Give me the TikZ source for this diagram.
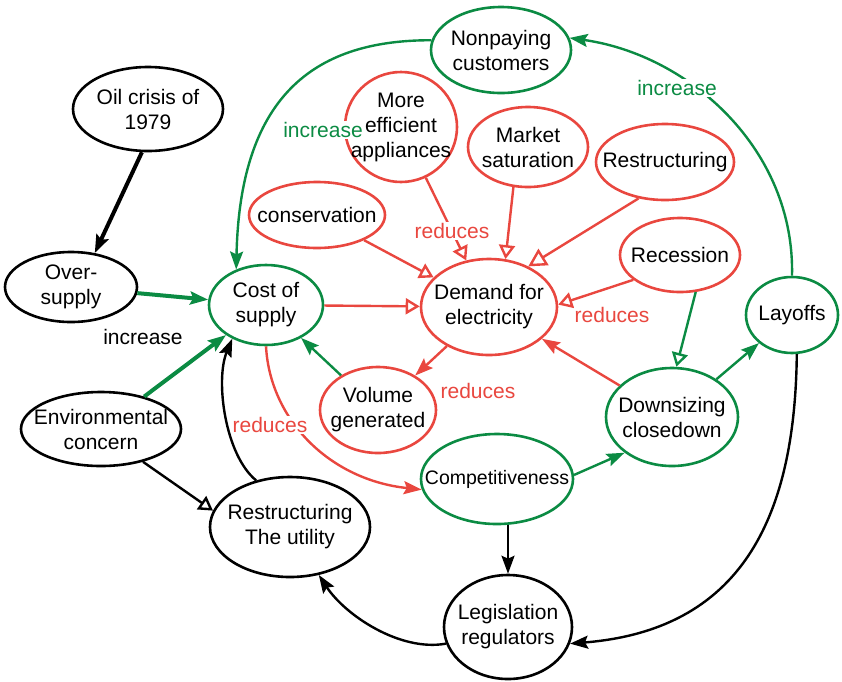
\documentclass[tikz,border=0pt]{standalone}
\usepackage{fontspec}
\setmainfont{Liberation Sans}
\usetikzlibrary{arrows.meta,shapes.geometric}
\definecolor{leafgreen}{HTML}{0B8B43}
\definecolor{brick}{HTML}{E9473F}
\tikzset{
  conceptbox/.style={
    ellipse, draw=#1, line width=2.6pt, text=black,
    inner xsep=-40pt, inner ysep=-40pt, align=center,
    font=\fontsize{21}{25}\selectfont
  },
  conceptbox/.default=black,
  pusharrow/.style={
    -{Stealth[length=18pt,width=13pt,inset=3pt]}, line width=2.4pt, color=#1
  },
  pusharrow/.default=black,
  heavyarrow/.style={pusharrow=#1, line width=4pt},
  heavyarrow/.default=black,
  cutarrow/.style={
    -{Triangle[open,length=14pt,width=16pt]}, line width=2.4pt, color=#1
  },
  cutarrow/.default=brick,
  edgelabel/.style={
    font=\fontsize{21}{25}\selectfont, text=#1, fill=white, inner sep=1pt
  },
  edgelabel/.default=brick,
}

\begin{document}
\begin{tikzpicture}[x=1pt, y=-1pt]
  \useasboundingbox (0,0) rectangle (842,681);

  % outer causes (black)
  \node[conceptbox, minimum width=150, minimum height=84] at (148,109) (oil) {Oil crisis of\\1979};
  \node[conceptbox, minimum width=132, minimum height=70] at (71,287) (over) {Over-\\supply};
  \node[conceptbox, minimum width=160, minimum height=74] at (101,429) (env) {Environmental\\concern};
  \node[conceptbox, minimum width=160, minimum height=100] at (290,527) (util) {Restructuring\\The utility};
  \node[conceptbox, minimum width=128, minimum height=104] at (508,627) (legis) {Legislation\\regulators};

  % demand side (red)
  \node[conceptbox=brick, minimum width=136, minimum height=66] at (317,215) (cons) {conservation};
  \node[conceptbox=brick, minimum width=112, minimum height=110] at (401,127) (eff) {More\\efficient\\appliances};
  \node[conceptbox=brick, minimum width=120, minimum height=80] at (528,147) (market) {Market\\saturation};
  \node[conceptbox=brick, minimum width=138, minimum height=76] at (665,162) (restr) {Restructuring};
  \node[conceptbox=brick, minimum width=120, minimum height=74] at (680,255) (recess) {Recession};
  \node[conceptbox=brick, minimum width=136, minimum height=96] at (489,307) (demand) {Demand for\\electricity};
  \node[conceptbox=brick, minimum width=116, minimum height=86] at (378,410) (volume) {Volume\\generated};

  % supply side (green)
  \node[conceptbox=leafgreen, minimum width=114, minimum height=80] at (266,305) (cost) {Cost of\\supply};
  \node[conceptbox=leafgreen, minimum width=140, minimum height=86] at (501,50) (nonpay) {Nonpaying\\customers};
  \node[conceptbox=leafgreen, minimum width=92, minimum height=76] at (792,315) (layoffs) {Layoffs};
  \node[conceptbox=leafgreen, minimum width=132, minimum height=98] at (672,417) (down) {Downsizing\\closedown};
  \node[conceptbox=leafgreen, minimum width=152, minimum height=90, font=\fontsize{19.5}{23}\selectfont] at (497,479) (comp) {Competitiveness};

  % heavy arrows into cost of supply
  \draw[heavyarrow] (oil.262) -- (over.55);
  \draw[heavyarrow=leafgreen] (over) -- (cost);
  \draw[heavyarrow=leafgreen] (env) -- (cost);

  % open arrows into demand
  \foreach \s in {cons,eff,cost} {
    \draw[cutarrow] (\s) -- (demand);
  }
  \draw[cutarrow] (market.250) -- (demand.71);
  \draw[cutarrow, -{Triangle[open,length=18pt,width=19pt]}] (restr.234) -- (demand.46);
  \draw[cutarrow] (recess.208) -- (demand.2);
  \draw[cutarrow=leafgreen] (recess.293) -- (down.85);
  \draw[cutarrow=black] (env.322) -- (util.168);

  % filled arrows
  \draw[pusharrow=brick] (demand) -- (volume);
  \draw[pusharrow=brick] (down) -- (demand);
  \draw[pusharrow=leafgreen] (volume) -- (cost);
  \draw[pusharrow=leafgreen] (down) -- (layoffs);
  \draw[pusharrow=leafgreen] (comp.3) -- (down.217);
  \draw[pusharrow] (comp.south -| legis.north) -- (legis.north);

  % curved feedback loops
  \draw[pusharrow=leafgreen] (nonpay.172) .. controls (320,40) and (240,90) .. (cost.130);
  \draw[pusharrow=leafgreen] (layoffs.north) .. controls (795,150) and (690,55) .. (nonpay.10);
  \draw[pusharrow=brick] (cost.south) .. controls (270,420) and (330,480) .. (comp.188);
  \draw[pusharrow] (layoffs.277) .. controls (795,520) and (740,630) .. (legis.345);
  \draw[pusharrow] (legis.195) .. controls (400,652) and (345,615) .. (util.301);
  \draw[pusharrow] (util.126) .. controls (225,455) and (215,380) .. (cost.225);

  % labels
  \node[edgelabel=black] at (143,337) (lbloversupply) {increase};
  \node[edgelabel=leafgreen] at (323,130) (lblnonpay) {increase};
  \node[edgelabel=leafgreen] at (677,88) (lbllayoffs) {increase};
  \node[edgelabel] at (452,231) (lbleff) {reduces};
  \node[edgelabel] at (612,315) (lblrecess) {reduces};
  \node[edgelabel] at (478,391) (lblvolume) {reduces};
  \node[edgelabel] at (270,425) (lblcost) {reduces};
\end{tikzpicture}
\end{document}
